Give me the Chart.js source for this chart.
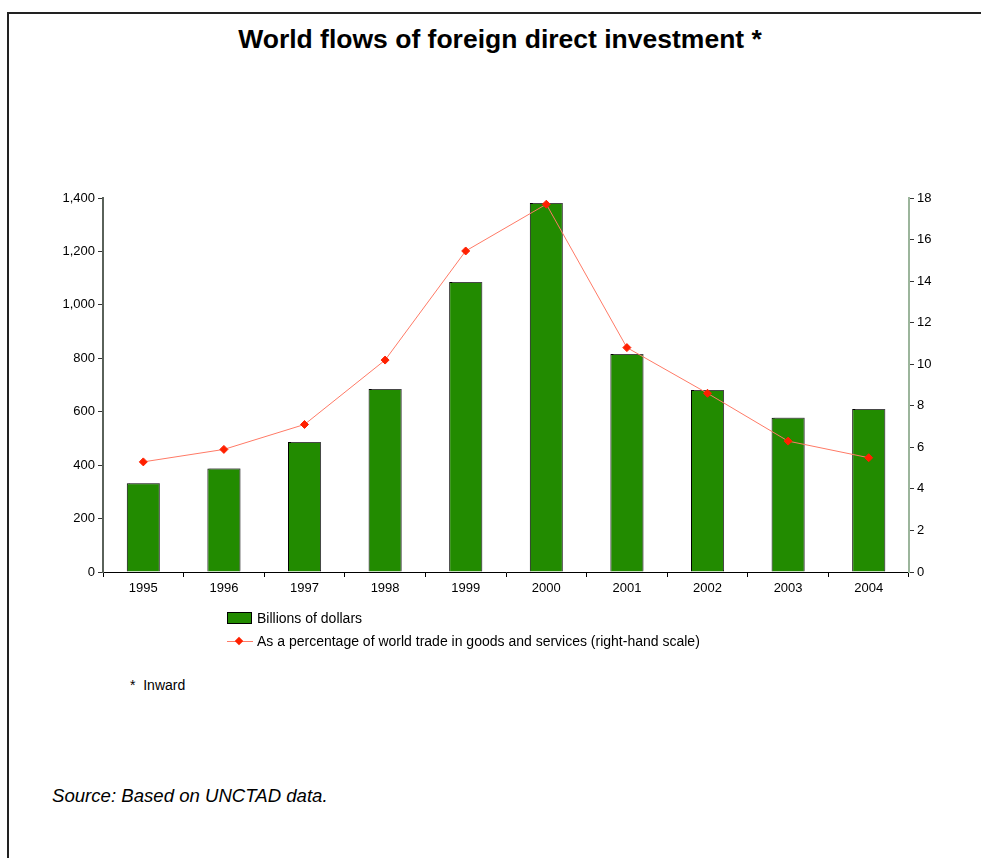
<!DOCTYPE html>
<html>
<head>
<meta charset="utf-8">
<script src="https://cdn.jsdelivr.net/npm/chart.js@4.4.1/dist/chart.umd.min.js"></script>
<style>
  body { margin: 0; background: #fff; font-family: "Liberation Sans", Arial, sans-serif; }
  #frame { position: absolute; left: 7px; top: 12px; width: 990px; height: 860px;
           border-left: 2px solid #222; border-top: 2px solid #222; }
  #title { position: absolute; left: 0; width: 1000px; top: 24px; text-align: center;
           font-weight: bold; font-size: 26.5px; line-height: 30px; color: #000; }
  #chart { position: absolute; left: 0; top: 0; }
  .leg { position: absolute; left: 227px; font-size: 14px; line-height: 16px; color: #000; }
  .leg span.txt { position: absolute; left: 30px; top: 0; white-space: nowrap; }
  .box { position: absolute; left: 0; top: 2px; width: 23px; height: 10px; background: #228b00; border: 1px solid #000; }
  .lsample { position: absolute; left: 0; top: 8px; width: 26px; height: 1px; background: #ff7a66; }
  .dia { position: absolute; left: 9px; top: 5px; width: 6px; height: 6px; background: #ff2000; transform: rotate(45deg); }
  #note { position: absolute; left: 130px; top: 677px; font-size: 14px; }
  #source { position: absolute; left: 52px; top: 785px; font-size: 18.6px; line-height: 22px; font-style: italic; }
</style>
</head>
<body>
<div id="frame"></div>
<div id="title">World flows of foreign direct investment *</div>
<canvas id="chart" width="981" height="620"></canvas>
<div class="leg" style="top:610px"><div class="box"></div><span class="txt" id="leg0"></span></div>
<div class="leg" style="top:633px"><div class="lsample"></div><div class="dia"></div><span class="txt" id="leg1"></span></div>
<div id="note">*&nbsp; Inward</div>
<div id="source">Source: Based on UNCTAD data.</div>
<script>
// World FDI flows

const years = ["1995", "1996", "1997", "1998", "1999", "2000", "2001", "2002", "2003", "2004"];
const billions = [332, 387, 487, 685, 1086, 1381, 816, 681, 577, 610];
const pctTrade = [5.3, 5.9, 7.1, 10.2, 15.45, 17.7, 10.8, 8.6, 6.3, 5.5];
const leftTicks = [0, 200, 400, 600, 800, 1000, 1200, 1400];
const rightTicks = [0, 2, 4, 6, 8, 10, 12, 14, 16, 18];
const seriesNames = ["Billions of dollars", "As a percentage of world trade in goods and services (right-hand scale)"];

document.getElementById("leg0").innerText = seriesNames[0];
document.getElementById("leg1").innerText = seriesNames[1];

// grey drop shadow behind the bars
const barShadow = {
    id: "barShadow",
    beforeDatasetDraw(chart, args) {
        if (args.meta.type !== "bar") return;
        const ctx = chart.ctx;
        ctx.save();
        ctx.shadowColor = "rgba(120,120,120,0.6)";
        ctx.shadowOffsetX = 2;
        ctx.shadowOffsetY = -1;
        ctx.shadowBlur = 0;
    },
    afterDatasetDraw(chart, args) {
        if (args.meta.type !== "bar") return;
        chart.ctx.restore();
    }
};

const tickFont = { family: "Liberation Sans, Arial, sans-serif", size: 13 };

new Chart(document.getElementById("chart"), {

    type: "bar",

    data: {
        labels: years,
        datasets: [
            {
                type: "line",
                label: seriesNames[1],
                data: pctTrade,
                yAxisID: "y2",
                borderColor: "#ff7a66",
                borderWidth: 1,
                tension: 0,
                pointStyle: "rectRot",
                pointRadius: 4,
                pointBackgroundColor: "#ff2000",
                pointBorderColor: "#ff2000",
                order: 1
            },
            {
                label: seriesNames[0],
                data: billions,
                yAxisID: "y",
                backgroundColor: "#228b00",
                borderColor: "#000",
                borderWidth: 1,
                categoryPercentage: 1,
                barPercentage: 0.41,
                order: 2
            }
        ]
    },

    options: {
        responsive: false,
        animation: false,
        layout: { padding: { left: 43, right: 32, top: 198, bottom: 20 } },
        plugins: { legend: { display: false }, tooltip: { enabled: false } },
        scales: {
            x: {
                grid: { display: true, offset: true, drawOnChartArea: false, color: "#000", tickLength: 5 },
                border: { color: "#000", width: 1 },
                ticks: { color: "#000", font: tickFont, padding: 4 },
                afterFit: s => { s.height = 28; }
            },
            y: {
                position: "left",
                min: 0,
                max: 1400,
                afterBuildTicks: s => { s.ticks = leftTicks.map(v => ({ value: v })); },
                grid: { drawOnChartArea: false, color: "#333", tickLength: 5 },
                border: { color: "#5a625a", width: 2 },
                ticks: { color: "#000", font: tickFont, padding: 3,
                         callback: v => v.toLocaleString("en-US") },
                afterFit: s => { s.width = 60; }
            },
            y2: {
                position: "right",
                min: 0,
                max: 18,
                afterBuildTicks: s => { s.ticks = rightTicks.map(v => ({ value: v })); },
                grid: { drawOnChartArea: false, color: "#333", tickLength: 5 },
                border: { color: "#9cb59c", width: 2 },
                ticks: { color: "#000", font: tickFont, padding: 3 },
                afterFit: s => { s.width = 40; }
            }
        }
    },

    plugins: [barShadow]

});
</script>
</body>
</html>
